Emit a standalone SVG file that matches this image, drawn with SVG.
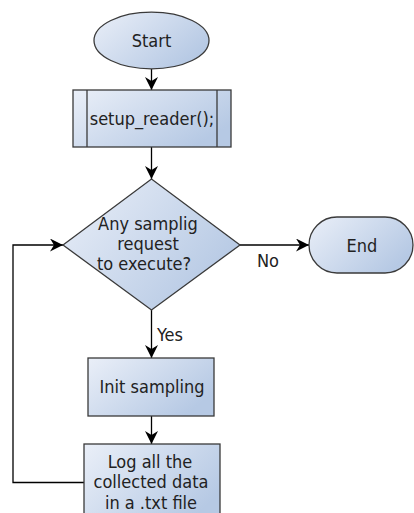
<svg xmlns="http://www.w3.org/2000/svg" width="414" height="513" viewBox="0 0 414 513">
  <defs>
    <linearGradient id="fill" x1="0" y1="0" x2="1" y2="0.6">
      <stop offset="0" stop-color="#eaeff8"/>
      <stop offset="1" stop-color="#b6c9e4"/>
    </linearGradient>
    <marker id="arrow" markerUnits="userSpaceOnUse" markerWidth="16" markerHeight="16" refX="13" refY="6.5" orient="auto">
      <path d="M0,0 L13,6.5 L0,13 L4,6.5 z" fill="#000"/>
    </marker>
    <style>
      .shape { fill: url(#fill); stroke: #3a3a3a; stroke-width: 1.3; }
      .edge { fill: none; stroke: #000; stroke-width: 1.3; }
      text { font-family: "DejaVu Sans Condensed", "DejaVu Sans", sans-serif; font-size: 18px; fill: #222; }
      .c { text-anchor: middle; }
    </style>
  </defs>

  <g id="connectors">
    <line class="edge" x1="151.5" y1="69" x2="151.5" y2="90" marker-end="url(#arrow)"/>
    <line class="edge" x1="151.5" y1="147" x2="151.5" y2="179" marker-end="url(#arrow)"/>
    <line class="edge" x1="240" y1="245" x2="309" y2="245" marker-end="url(#arrow)"/>
    <line class="edge" x1="151.5" y1="310" x2="151.5" y2="358" marker-end="url(#arrow)"/>
    <line class="edge" x1="151.5" y1="416" x2="151.5" y2="444" marker-end="url(#arrow)"/>
    <polyline class="edge" points="84,482.5 13,482.5 13,245 63,245" marker-end="url(#arrow)"/>
    <text x="257" y="266.5">No</text>
    <text x="157" y="340.5">Yes</text>
  </g>

  <g id="start">
    <ellipse class="shape" cx="151.5" cy="40.5" rx="57.5" ry="28.3"/>
    <text class="c" x="151.5" y="46.5">Start</text>
  </g>

  <g id="setup_reader">
    <rect class="shape" x="73" y="90" width="158" height="57"/>
    <line x1="87" y1="90" x2="87" y2="147" stroke="#3a3a3a" stroke-width="1.3"/>
    <line x1="217" y1="90" x2="217" y2="147" stroke="#3a3a3a" stroke-width="1.3"/>
    <text class="c" x="152" y="125">setup_reader();</text>
  </g>

  <g id="decision">
    <polygon class="shape" points="63,245 151.5,179 240,245 151.5,310"/>
    <text class="c" x="148" y="229.5">Any samplig</text>
    <text class="c" x="148" y="249.5">request</text>
    <text class="c" x="144" y="269.5">to execute?</text>
  </g>

  <g id="end">
    <rect class="shape" x="309" y="217" width="104" height="56" rx="28" ry="28"/>
    <text class="c" x="362" y="251.5">End</text>
  </g>

  <g id="init_sampling">
    <rect class="shape" x="88" y="358" width="126" height="58"/>
    <text class="c" x="152" y="393">Init sampling</text>
  </g>

  <g id="log_data">
    <rect class="shape" x="84" y="444" width="136" height="80"/>
    <text class="c" x="150" y="467.5">Log all the</text>
    <text class="c" x="151" y="488">collected data</text>
    <text class="c" x="151" y="508.5">in a .txt file</text>
  </g>
</svg>
